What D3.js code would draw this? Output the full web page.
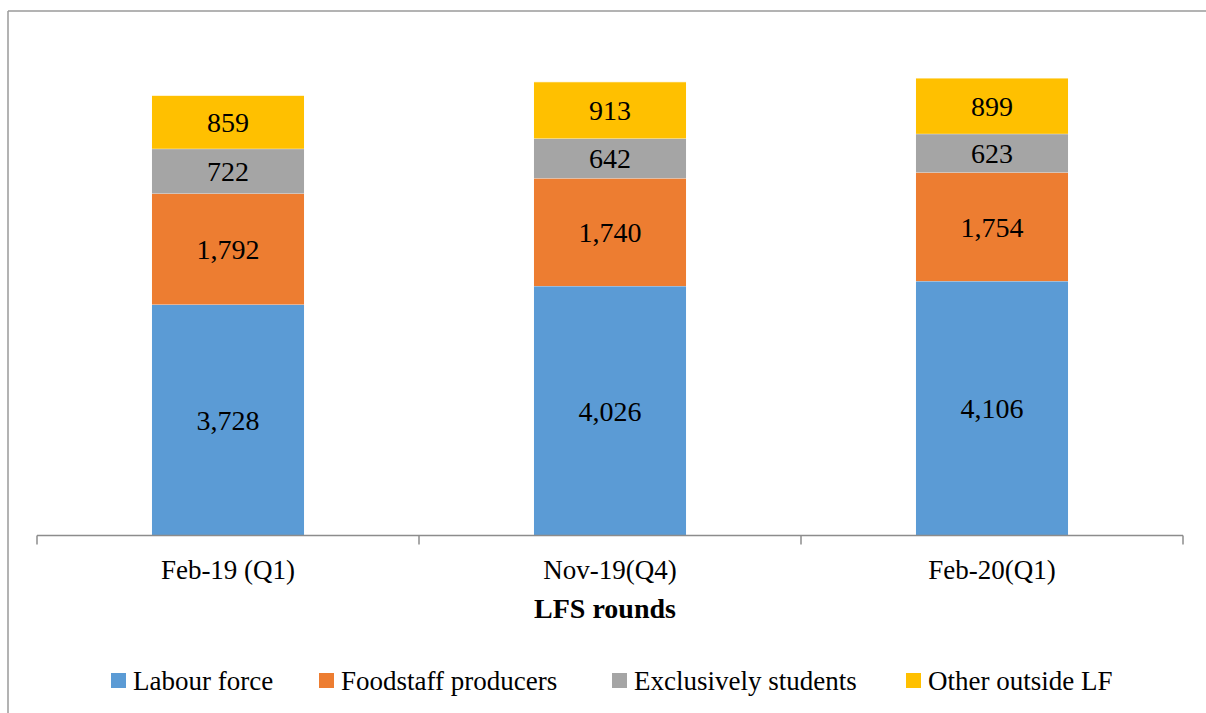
<!DOCTYPE html>
<html>
<head>
<meta charset="utf-8">
<script src="https://cdn.jsdelivr.net/npm/d3@7"></script>
<style>
  html, body { margin: 0; padding: 0; background: #fff; }
  svg { display: block; }
  text { font-family: "Liberation Serif", "DejaVu Serif", serif; fill: #000; }
</style>
</head>
<body>
<svg id="chart" width="1206" height="713"></svg>
<script>
const categories = ["Feb-19 (Q1)", "Nov-19(Q4)", "Feb-20(Q1)"];
const seriesNames = ["Labour force", "Foodstaff producers", "Exclusively students", "Other outside LF"];
const labourForce = [3728, 4026, 4106];
const foodstaffProducers = [1792, 1740, 1754];
const exclusivelyStudents = [722, 642, 623];
const otherOutsideLF = [859, 913, 899];
const colors = ["#5B9BD5", "#ED7D31", "#A5A5A5", "#FFC000"];
const axisTitle = "LFS rounds";

const seriesValues = [labourForce, foodstaffProducers, exclusivelyStudents, otherOutsideLF];
const keys = seriesNames;
const rows = categories.map((c, i) => {
  const r = { category: c };
  keys.forEach((k, j) => r[k] = seriesValues[j][i]);
  return r;
});
const stacked = d3.stack().keys(keys)(rows);

const svg = d3.select("#chart");

// outer chart frame (top + left visible)
svg.append("line").attr("x1", 8).attr("x2", 1206).attr("y1", 11).attr("y2", 11)
  .attr("stroke", "#9a9a9a").attr("stroke-width", 1.5);
svg.append("line").attr("x1", 8).attr("x2", 8).attr("y1", 11).attr("y2", 713)
  .attr("stroke", "#9a9a9a").attr("stroke-width", 1.5);

const x = d3.scaleBand().domain(categories).range([37, 1183]).paddingInner(0.602).paddingOuter(0.301);
const y = d3.scaleLinear().domain([0, 8000]).range([535.5, 535.5 - 8000 * 0.06196]);

const g = svg.append("g");
const layers = g.selectAll("g.layer").data(stacked).join("g")
  .attr("class", "layer").attr("fill", (d, i) => colors[i]);

layers.selectAll("rect").data(d => d).join("rect")
  .attr("x", d => x(d.data.category))
  .attr("width", x.bandwidth())
  .attr("y", d => y(d[1]))
  .attr("height", d => y(d[0]) - y(d[1]));

// thin light separators between segments
layers.selectAll("line.sep").data(d => d).join("line")
  .attr("class", "sep")
  .attr("x1", d => x(d.data.category)).attr("x2", d => x(d.data.category) + x.bandwidth())
  .attr("y1", d => y(d[1])).attr("y2", d => y(d[1]))
  .attr("stroke", "#ffffff").attr("stroke-opacity", 0.6).attr("stroke-width", 1);

const fmt = d3.format(",");
layers.selectAll("text.val").data(d => d.map(v => ({ v, key: d.key }))).join("text")
  .attr("class", "val")
  .attr("x", d => x(d.v.data.category) + x.bandwidth() / 2)
  .attr("y", d => (y(d.v[0]) + y(d.v[1])) / 2)
  .attr("dy", "0.35em")
  .attr("text-anchor", "middle")
  .attr("font-size", 28)
  .text(d => fmt(d.v.data[d.key]));

// x axis with ticks at band boundaries
const axisY = 535.5;
const axisColor = "#8c8c8c";
svg.append("line").attr("x1", 37).attr("x2", 1183).attr("y1", axisY).attr("y2", axisY)
  .attr("stroke", axisColor).attr("stroke-width", 1.5);
const step = x.step();
const tickXs = d3.range(categories.length + 1).map(i => 37 + step * i);
svg.selectAll("line.tick").data(tickXs).join("line").attr("class", "tick")
  .attr("x1", d => d).attr("x2", d => d).attr("y1", axisY).attr("y2", axisY + 9)
  .attr("stroke", axisColor).attr("stroke-width", 1.5);

svg.selectAll("text.cat").data(categories).join("text").attr("class", "cat")
  .attr("x", d => x(d) + x.bandwidth() / 2)
  .attr("y", 570).attr("dy", "0.35em")
  .attr("text-anchor", "middle").attr("font-size", 27)
  .text(d => d);

svg.append("text").attr("x", 605).attr("y", 608).attr("dy", "0.35em")
  .attr("text-anchor", "middle").attr("font-size", 28).attr("font-weight", "bold")
  .text(axisTitle);

// legend
const legendX = [111, 319, 612, 906];
const lg = svg.selectAll("g.leg").data(seriesNames).join("g").attr("class", "leg")
  .attr("transform", (d, i) => `translate(${legendX[i]},680.5)`);
lg.append("rect").attr("x", 0).attr("y", -7.5).attr("width", 15).attr("height", 15)
  .attr("fill", (d, i) => colors[i]);
lg.append("text").attr("x", 22).attr("y", 0).attr("dy", "0.35em")
  .attr("font-size", 27).text(d => d);
</script>
</body>
</html>
